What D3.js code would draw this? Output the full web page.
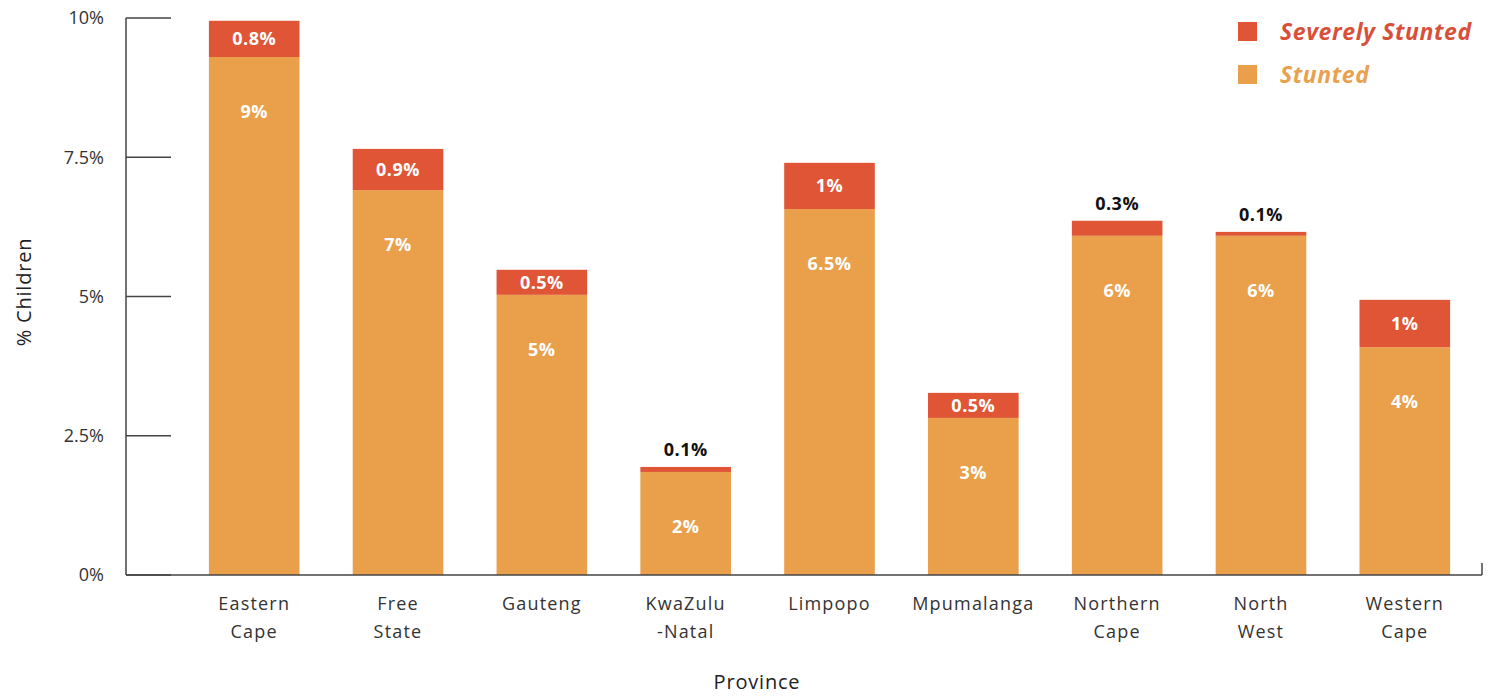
<!DOCTYPE html>
<html lang="en">
<head>
<meta charset="UTF-8">
<title>Stunting by province</title>
<style>
    body{ margin:0; background:#fff; }
    svg text{ font-family: "Open Sans", "Lato", sans-serif; }
    .tick-label{ fill:#333; font-size:18px; text-anchor:end; }
    .cat-label{ fill:#333; font-size:18px; text-anchor:middle; letter-spacing:1.2px; }
    .val-in{ fill:#fff; font-size:18px; font-weight:700; text-anchor:middle; letter-spacing:0.5px; }
    .val-out{ fill:#111; font-size:18px; font-weight:700; text-anchor:middle; letter-spacing:0.5px; }
    .legend-text{ font-size:23px; font-weight:700; font-style:italic; letter-spacing:0.6px; }
    .title{ fill:#222; font-size:20px; text-anchor:middle; letter-spacing:0.8px; }
</style>
<script src="https://cdn.jsdelivr.net/npm/d3@7/dist/d3.min.js"></script>
</head>
<body>
<script>
    // data
    var provinces = ["Eastern Cape","Free State","Gauteng","KwaZulu -Natal","Limpopo","Mpumalanga","Northern Cape","North West","Western Cape"];
    var catLines = [["Eastern","Cape"],["Free","State"],["Gauteng"],["KwaZulu","-Natal"],["Limpopo"],["Mpumalanga"],["Northern","Cape"],["North","West"],["Western","Cape"]];
    var stunted = [9.3, 6.91, 5.03, 1.85, 6.57, 2.82, 6.09, 6.09, 4.09];
    var severe = [0.65, 0.74, 0.45, 0.09, 0.83, 0.45, 0.27, 0.07, 0.85];
    var stuntedLabels = ["9%","7%","5%","2%","6.5%","3%","6%","6%","4%"];
    var severeLabels = ["0.8%","0.9%","0.5%","0.1%","1%","0.5%","0.3%","0.1%","1%"];
    var yTicks = [0, 2.5, 5, 7.5, 10];
    var yTickLabels = ["0%","2.5%","5%","7.5%","10%"];

    var width = 1488, height = 697;
    var colStunted = "#EAA04B", colSevere = "#DF5535";

    var svg = d3.select("body").append("svg")
        .attr("width", width)
        .attr("height", height);

    var x = d3.scaleBand()
        .domain(provinces)
        .range([183, 1476])
        .paddingInner(0.37)
        .paddingOuter(0.18);

    var y = d3.scaleLinear()
        .domain([0, 10])
        .range([575, 18]);

    // y axis line + inward ticks
    svg.append("line")
        .attr("x1", 126).attr("x2", 126)
        .attr("y1", y(10)).attr("y2", y(0))
        .attr("stroke", "#444").attr("stroke-width", 1.5);

    svg.selectAll(".ytick")
        .data(yTicks)
        .enter().append("line")
        .attr("class", "ytick")
        .attr("x1", 126).attr("x2", 171)
        .attr("y1", function(d){ return y(d); })
        .attr("y2", function(d){ return y(d); })
        .attr("stroke", "#444").attr("stroke-width", 1.5);

    svg.selectAll(".tick-label")
        .data(yTicks)
        .enter().append("text")
        .attr("class", "tick-label")
        .attr("x", 104)
        .attr("y", function(d){ return y(d); })
        .attr("dy", "0.35em")
        .text(function(d, i){ return yTickLabels[i]; });

    // bars
    var g = svg.selectAll(".bar")
        .data(provinces)
        .enter().append("g")
        .attr("class", "bar");

    g.append("rect")
        .attr("x", function(d){ return x(d); })
        .attr("width", x.bandwidth())
        .attr("y", function(d, i){ return y(stunted[i]); })
        .attr("height", function(d, i){ return y(0) - y(stunted[i]); })
        .attr("fill", colStunted);

    g.append("rect")
        .attr("x", function(d){ return x(d); })
        .attr("width", x.bandwidth())
        .attr("y", function(d, i){ return y(stunted[i] + severe[i]); })
        .attr("height", function(d, i){ return y(stunted[i]) - y(stunted[i] + severe[i]); })
        .attr("fill", colSevere);

    g.append("text")
        .attr("class", "val-in")
        .attr("x", function(d){ return x(d) + x.bandwidth() / 2; })
        .attr("y", function(d, i){ return y(stunted[i]) + 55; })
        .attr("dy", "0.35em")
        .text(function(d, i){ return stuntedLabels[i]; });

    g.append("text")
        .attr("class", function(d, i){ return severe[i] > 0.4 ? "val-in" : "val-out"; })
        .attr("x", function(d){ return x(d) + x.bandwidth() / 2; })
        .attr("y", function(d, i){
            var top = y(stunted[i] + severe[i]);
            if (severe[i] > 0.4) return (top + y(stunted[i])) / 2;
            return top - 17;
        })
        .attr("dy", "0.35em")
        .text(function(d, i){ return severeLabels[i]; });

    // x axis line
    svg.append("line")
        .attr("x1", 126).attr("x2", 1482)
        .attr("y1", y(0)).attr("y2", y(0))
        .attr("stroke", "#444").attr("stroke-width", 1.5);
    svg.append("line")
        .attr("x1", 1482).attr("x2", 1482)
        .attr("y1", y(0) - 12).attr("y2", y(0))
        .attr("stroke", "#444").attr("stroke-width", 1.5);

    // category labels
    var cl = svg.selectAll(".cat-label")
        .data(provinces)
        .enter().append("text")
        .attr("class", "cat-label")
        .attr("x", function(d){ return x(d) + x.bandwidth() / 2; })
        .attr("y", 610);
    cl.selectAll("tspan")
        .data(function(d, i){ return catLines[i]; })
        .enter().append("tspan")
        .attr("x", function(){ var p = d3.select(this.parentNode).datum(); return x(p) + x.bandwidth() / 2; })
        .attr("dy", function(d, j){ return j === 0 ? 0 : 28; })
        .text(function(d){ return d; });

    // axis titles
    svg.append("text")
        .attr("class", "title")
        .attr("transform", "translate(31,292) rotate(-90)")
        .text("% Children");
    svg.append("text")
        .attr("class", "title")
        .attr("x", 757).attr("y", 689)
        .text("Province");

    // legend
    var legend = [["Severely Stunted", colSevere, "#D9503A"], ["Stunted", colStunted, "#E8A24F"]];
    var lg = svg.selectAll(".legend")
        .data(legend)
        .enter().append("g")
        .attr("class", "legend")
        .attr("transform", function(d, i){ return "translate(1238," + (22 + i * 43) + ")"; });
    lg.append("rect")
        .attr("width", 19).attr("height", 19)
        .attr("fill", function(d){ return d[1]; });
    lg.append("text")
        .attr("class", "legend-text")
        .attr("x", 42).attr("y", 10)
        .attr("dy", "0.35em")
        .attr("fill", function(d){ return d[2]; })
        .text(function(d){ return d[0]; });
</script>
</body>
</html>
